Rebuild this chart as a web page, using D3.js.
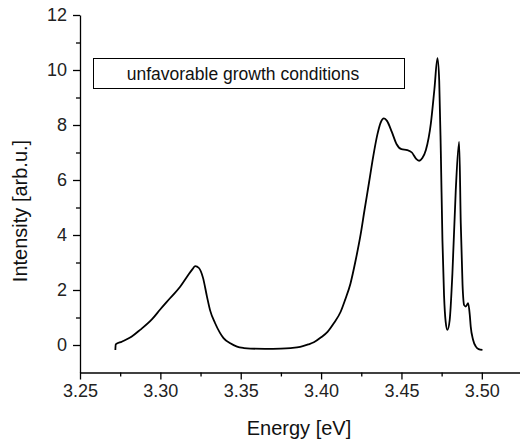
<!DOCTYPE html>
<html>
<head>
<meta charset="utf-8">
<script src="https://cdn.jsdelivr.net/npm/d3@7"></script>
<style>
  body { margin: 0; background: #fff; }
  svg { display: block; font-family: "Liberation Sans", Arial, sans-serif; }
  .tick text { fill: #222; }
</style>
</head>
<body>
<svg id="chart" width="520" height="442"></svg>
<script>
// spectrum
const energy = [3.2720, 3.2722, 3.2760, 3.2820, 3.2874, 3.2950, 3.3000, 3.3060, 3.3123, 3.3170,
  3.3200, 3.3217, 3.3240, 3.3265, 3.3290, 3.3310, 3.3340, 3.3370, 3.3393, 3.3435,
  3.3477, 3.3520, 3.3560, 3.3650, 3.3750, 3.3810, 3.3870, 3.3920, 3.3955, 3.4000,
  3.4040, 3.4080, 3.4121, 3.4150, 3.4183, 3.4215, 3.4246, 3.4270, 3.4298, 3.4325,
  3.4350, 3.4370, 3.4391, 3.4410, 3.4440, 3.4470, 3.4500, 3.4536, 3.4565, 3.4590,
  3.4610, 3.4630, 3.4652, 3.4683, 3.4705, 3.4724, 3.4735, 3.4745, 3.4755, 3.4765,
  3.4775, 3.4786, 3.4800, 3.4817, 3.4838, 3.4859, 3.4869, 3.4880, 3.4890, 3.4900,
  3.4915, 3.4925, 3.4931, 3.4945, 3.4963, 3.4980, 3.5004];
const intensity = [-0.18, 0.02, 0.12, 0.30, 0.55, 0.95, 1.30, 1.70, 2.12, 2.52,
  2.76, 2.87, 2.80, 2.45, 1.76, 1.25, 0.80, 0.45, 0.25, 0.06,
  -0.06, -0.11, -0.13, -0.14, -0.13, -0.11, -0.07, 0.02, 0.10, 0.28,
  0.48, 0.80, 1.20, 1.65, 2.24, 3.08, 4.02, 4.90, 5.90, 6.88,
  7.65, 8.08, 8.24, 8.15, 7.75, 7.30, 7.12, 7.09, 7.00, 6.78,
  6.70, 6.80, 7.09, 8.06, 9.30, 10.43, 9.60, 7.00, 3.80, 1.80,
  0.85, 0.55, 0.90, 2.60, 5.64, 7.39, 4.44, 2.20, 1.45, 1.40,
  1.52, 1.10, 0.67, 0.20, -0.06, -0.15, -0.18];

const xTicks = [3.25, 3.30, 3.35, 3.40, 3.45, 3.50];
const xMinor = [3.275, 3.325, 3.375, 3.425, 3.475];
const yTicks = [0, 2, 4, 6, 8, 10, 12];
const yMinor = [1, 3, 5, 7, 9, 11];
const legendText = "unfavorable growth conditions";

const svg = d3.select("#chart");

const x = d3.scaleLinear().domain([3.25, 3.525]).range([80, 522]);
const y = d3.scaleLinear().domain([-1, 12]).range([372.5, 15]);

// minor ticks first, major on top
svg.append("g")
  .attr("transform", `translate(0,${y(-1)})`)
  .call(d3.axisBottom(x).tickValues(xMinor).tickSize(4).tickFormat(""))
  .call(g => g.select(".domain").remove())
  .selectAll("line").attr("stroke", "#000").attr("stroke-width", 1.3);

svg.append("g")
  .attr("transform", `translate(${x(3.25)},0)`)
  .call(d3.axisLeft(y).tickValues(yMinor).tickSize(4).tickFormat(""))
  .call(g => g.select(".domain").remove())
  .selectAll("line").attr("stroke", "#000").attr("stroke-width", 1.3);

const xAxis = svg.append("g")
  .attr("transform", `translate(0,${y(-1)})`)
  .call(d3.axisBottom(x).tickValues(xTicks).tickSize(7).tickPadding(5)
    .tickFormat(d3.format(".2f")).tickSizeOuter(0));
xAxis.selectAll("text").attr("font-size", 18).attr("font-family", "Liberation Sans, Arial, sans-serif");

const yAxis = svg.append("g")
  .attr("transform", `translate(${x(3.25)},0)`)
  .call(d3.axisLeft(y).tickValues(yTicks).tickSize(7).tickPadding(6).tickSizeOuter(0));
yAxis.selectAll("text").attr("font-size", 18).attr("font-family", "Liberation Sans, Arial, sans-serif");

svg.selectAll(".domain, .tick line").attr("stroke", "#000").attr("stroke-width", 1.3);

// spectrum
const pts = energy.map((e, i) => [e, intensity[i]]);
const line = d3.line()
  .x(d => x(d[0]))
  .y(d => y(d[1]))
  .curve(d3.curveMonotoneX);

svg.append("path")
  .datum(pts)
  .attr("fill", "none")
  .attr("stroke", "#000")
  .attr("stroke-width", 1.8)
  .attr("stroke-linejoin", "round")
  .attr("d", line);

// legend box
svg.append("rect")
  .attr("x", 93.5).attr("y", 58.5)
  .attr("width", 311).attr("height", 30)
  .attr("fill", "#fff").attr("stroke", "#000").attr("stroke-width", 1);

svg.append("text")
  .attr("x", 243).attr("y", 74)
  .attr("text-anchor", "middle")
  .attr("dominant-baseline", "central")
  .attr("font-size", 17.5)
  .attr("fill", "#111")
  .text(legendText);

// axis titles
svg.append("text")
  .attr("x", 299).attr("y", 428)
  .attr("text-anchor", "middle")
  .attr("dominant-baseline", "central")
  .attr("font-size", 20)
  .attr("fill", "#111")
  .text("Energy [eV]");

svg.append("text")
  .attr("transform", "translate(20,211) rotate(-90)")
  .attr("text-anchor", "middle")
  .attr("dominant-baseline", "central")
  .attr("font-size", 20)
  .attr("fill", "#111")
  .text("Intensity [arb.u.]");
</script>
</body>
</html>
